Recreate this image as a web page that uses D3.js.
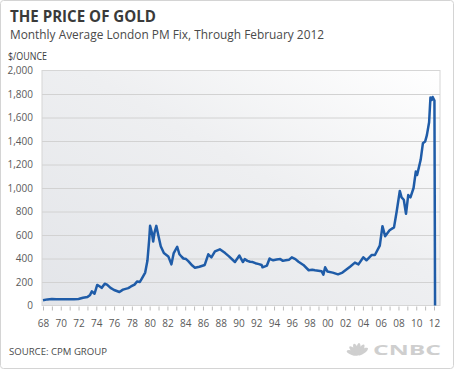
<html>
<head>
    <script src="https://cdn.jsdelivr.net/npm/d3@7"></script>
    <style>
        body {
            margin: 0;
            background: white;
            font-family: "Open Sans", Roboto, Arial, sans-serif;
        }
        svg {
            display: block;
        }
    </style>
</head>
<body>
    <svg id="chart"></svg>
</body>
<script>
    // monthly average London PM fix (decimal year, $/oz)
    let years = [1968.0, 1968.5, 1969.0, 1969.5, 1970.0, 1971.0, 1971.5, 1972.0, 1972.5, 1973.0,
        1973.3, 1973.5, 1973.8, 1974.1, 1974.4, 1974.6, 1974.95, 1975.2, 1975.6, 1976.0,
        1976.6, 1977.0, 1977.6, 1977.9, 1978.3, 1978.6, 1978.9, 1979.2, 1979.5, 1979.75,
        1979.95, 1980.05, 1980.25, 1980.4, 1980.55, 1980.75, 1981.0, 1981.25, 1981.6, 1982.1,
        1982.45, 1982.7, 1983.1, 1983.35, 1983.6, 1983.8, 1984.1, 1984.35, 1984.8, 1985.1, 1985.6, 1986.2,
        1986.6, 1986.95, 1987.35, 1987.9, 1988.5, 1988.9, 1989.6, 1990.1, 1990.5, 1990.7,
        1991.0, 1991.3, 1991.6, 1991.9, 1992.3, 1992.6, 1992.7, 1993.2, 1993.5, 1993.7, 1993.9, 1994.3,
        1994.7, 1995.0, 1995.3, 1995.7, 1996.0, 1996.4,
        1996.75, 1997.3, 1997.9, 1998.3, 1998.6, 1999.35, 1999.55, 1999.75, 2000.0, 2000.6, 2001.2,
        2001.7, 2002.55, 2003.1, 2003.5, 2004.05, 2004.4, 2005.0, 2005.35, 2005.9, 2006.2,
        2006.5, 2007.0, 2007.5, 2007.8, 2008.15, 2008.35, 2008.6, 2008.85, 2009.1, 2009.35,
        2009.7, 2009.95, 2010.1, 2010.5, 2010.75, 2011.0, 2011.2, 2011.45, 2011.6, 2011.75,
        2011.85, 2012.05, 2012.12];
    let prices = [45, 52, 55, 54, 53, 53, 54, 56, 66, 72,
        90, 120, 100, 175, 162, 150, 185, 178, 150, 132,
        115, 135, 148, 162, 178, 205, 200, 240, 280, 380,
        560, 678, 620, 544, 620, 678, 590, 505, 446, 418,
        350, 443, 500, 436, 415, 400, 395, 378, 340, 322, 330, 345,
        436, 410, 460, 478, 446, 420, 370, 425, 370, 395,
        380, 372, 370, 360, 352, 345, 325, 340, 400, 390, 385, 392,
        395, 380, 385, 390, 410, 395,
        372, 345, 300, 305, 300, 292, 263, 325, 290, 280, 265,
        280, 330, 365, 350, 410, 385, 430, 430, 510, 675,
        590, 640, 665, 800, 975, 920, 900, 780, 940, 920,
        1000, 1140, 1110, 1240, 1380, 1395, 1450, 1560, 1770, 1750,
        1775, 1745, 0];

    let yTicks = [0, 200, 400, 600, 800, 1000, 1200, 1400, 1600, 1800, 2000];
    let yearTicks = d3.range(1968, 2013);
    let yearLabels = ["68", "70", "72", "74", "76", "78", "80", "82", "84", "86", "88",
        "90", "92", "94", "96", "98", "00", "02", "04", "06", "08", "10", "12"];

    function getConfig() {
        let width = 460;
        let height = 370;
        let margin = {left: 42, right: 20, top: 70.5, bottom: 64.5};
        let container = d3.select("#chart")
            .attr("width", width)
            .attr("height", height);
        return {width, height, margin, container};
    }

    function drawFrame(config) {
        let svg = config.container;
        svg.append("rect")
            .attr("x", 0.5).attr("y", 0.5)
            .attr("width", 453).attr("height", 368)
            .attr("rx", 3)
            .attr("fill", "white")
            .attr("stroke", "#d4d4d4");

        svg.append("text")
            .attr("x", 10).attr("y", 22)
            .attr("font-size", 16)
            .attr("font-weight", "bold")
            .attr("fill", "#3a3a3a")
            .attr("textLength", 146)
            .attr("lengthAdjust", "spacingAndGlyphs")
            .text("THE PRICE OF GOLD");

        svg.append("text")
            .attr("x", 10).attr("y", 39)
            .attr("font-size", 13)
            .attr("fill", "#4a4a4a")
            .attr("textLength", 314)
            .attr("lengthAdjust", "spacingAndGlyphs")
            .text("Monthly Average London PM Fix, Through February 2012");

        svg.append("text")
            .attr("x", 8).attr("y", 60)
            .attr("font-size", 10)
            .attr("fill", "#3a3a3a")
            .attr("textLength", 39)
            .attr("lengthAdjust", "spacingAndGlyphs")
            .text("$/OUNCE");

        svg.append("text")
            .attr("x", 9).attr("y", 355)
            .attr("font-size", 9.5)
            .attr("fill", "#4a4a4a")
            .attr("textLength", 98)
            .attr("lengthAdjust", "spacingAndGlyphs")
            .text("SOURCE: CPM GROUP");

        // cnbc logo, grey
        let logo = svg.append("g").attr("transform", "translate(358,355)").attr("fill", "#cfcfcf");
        [-70, -45, -20, 5, 30, 55].forEach(a => {
            logo.append("ellipse")
                .attr("cx", 0).attr("cy", -6)
                .attr("rx", 2.2).attr("ry", 6)
                .attr("transform", "rotate(" + a + ",0,0)");
        });
        svg.append("text")
            .attr("x", 373).attr("y", 355)
            .attr("font-size", 15)
            .attr("font-weight", "bold")
            .attr("fill", "#cfcfcf")
            .attr("textLength", 68)
            .attr("lengthAdjust", "spacingAndGlyphs")
            .text("CNBC");
    }

    function drawChart(config) {
        let {width, height, margin, container} = config;
        let x = d3.scaleLinear().domain([1968, 2012]).range([43, 434]);
        let y = d3.scaleLinear().domain([0, 2000]).range([height - margin.bottom, margin.top]);

        let defs = container.append("defs");
        let grad = defs.append("linearGradient")
            .attr("id", "bg")
            .attr("x1", "0").attr("y1", "1")
            .attr("x2", "1").attr("y2", "0");
        grad.append("stop").attr("offset", "0").attr("stop-color", "#e3e5e9");
        grad.append("stop").attr("offset", "0.55").attr("stop-color", "#eeeff1");
        grad.append("stop").attr("offset", "1").attr("stop-color", "#ffffff");

        let plotRight = width - margin.right;
        container.append("rect")
            .attr("x", margin.left).attr("y", margin.top)
            .attr("width", plotRight - margin.left)
            .attr("height", y(0) - margin.top)
            .attr("fill", "url(#bg)")
            .attr("stroke", "#d6d6d6");

        // grid lines + y labels
        let yAxis = d3.axisLeft(y)
            .tickValues(yTicks)
            .tickSize(-(plotRight - margin.left))
            .tickFormat(d3.format(","));
        let gy = container.append("g")
            .attr("transform", "translate(" + margin.left + ",0)")
            .call(yAxis);
        gy.select(".domain").remove();
        gy.selectAll(".tick line").attr("stroke", "#d2d2d2");
        gy.selectAll(".tick").filter(d => d == 0 || d == 2000).select("line").remove();
        gy.selectAll(".tick text")
            .attr("x", -9)
            .attr("font-size", 10)
            .attr("font-family", "'Open Sans', Arial, sans-serif")
            .attr("fill", "#5a5a5a");

        // year ticks, labels every second year
        let xAxis = d3.axisBottom(x)
            .tickValues(yearTicks)
            .tickSize(4)
            .tickFormat(d => (d % 2 == 0) ? yearLabels[(d - 1968) / 2] : "");
        let gx = container.append("g")
            .attr("transform", "translate(0," + (y(0) + 1) + ")")
            .call(xAxis);
        gx.select(".domain").remove();
        gx.selectAll(".tick line").attr("stroke", "#bbb");
        gx.selectAll(".tick text")
            .attr("y", 13)
            .attr("font-size", 10)
            .attr("font-family", "'Open Sans', Arial, sans-serif")
            .attr("fill", "#5a5a5a");

        let line = d3.line()
            .x((d, i) => x(years[i]))
            .y(d => y(d));
        container.append("path")
            .datum(prices)
            .attr("d", line)
            .attr("fill", "none")
            .attr("stroke", "#1f5ca8")
            .attr("stroke-width", 2.5)
            .attr("stroke-linejoin", "round");
    }

    let config = getConfig();
    drawFrame(config);
    drawChart(config);
</script>
</html>
